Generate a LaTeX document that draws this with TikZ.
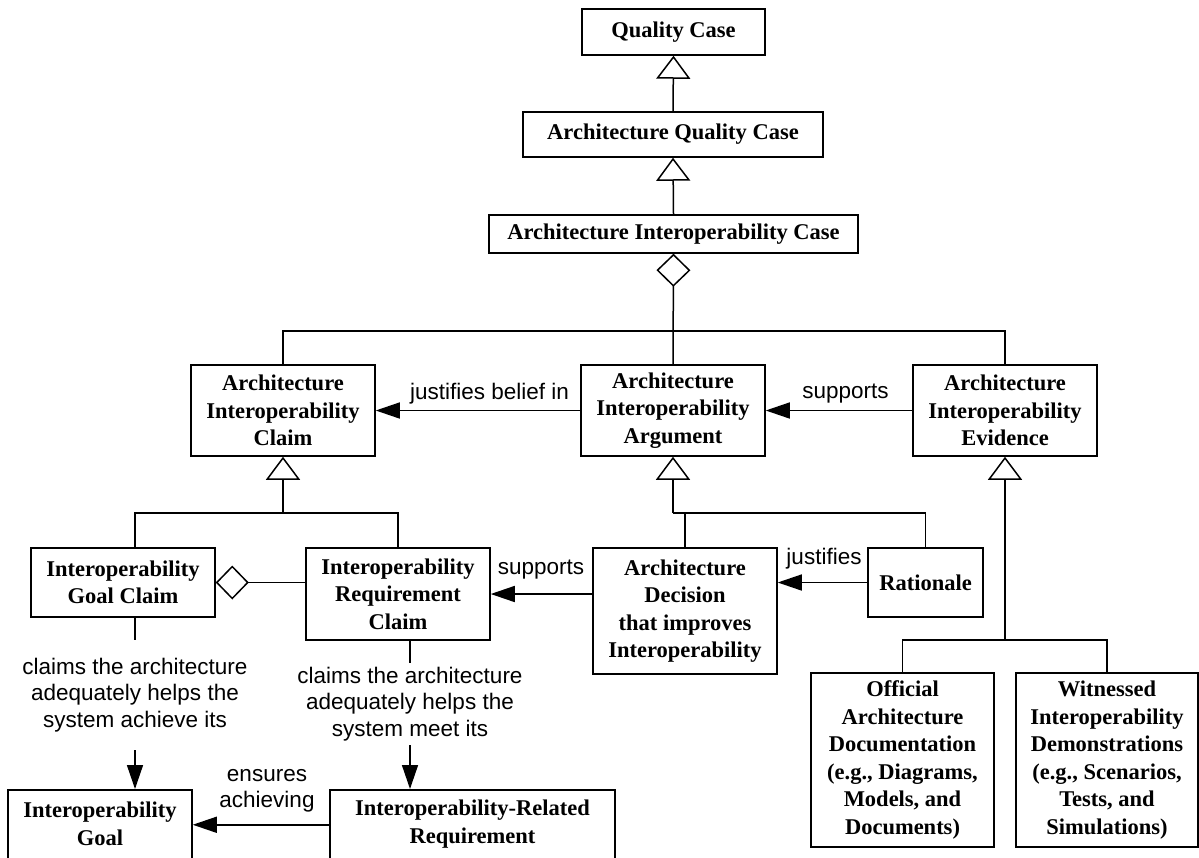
\documentclass[tikz,border=0pt]{standalone}
\usepackage{fontspec}
\setmainfont{Liberation Serif}
\newfontfamily\labelfont{Liberation Sans}
\usetikzlibrary{arrows.meta}
\begin{document}
\begin{tikzpicture}[x=1pt,y=-1pt,
  box/.style={draw, line width=1.5pt, align=center, inner sep=0pt,
    font=\bfseries\fontsize{22.5}{27.5}\selectfont},
  boxtext/.style={align=center, inner sep=0pt,
    font=\bfseries\fontsize{22.5}{27.5}\selectfont},
  lbl/.style={inner sep=0pt, align=center,
    font=\labelfont\fontsize{22.5}{26.5}\selectfont},
  wire/.style={line width=1.5pt},
  rel/.style={wire, -{Triangle[length=24pt, width=16pt]}},
  gen/.style={wire, -{Triangle[open, length=23pt, width=34pt, fill=white]}},
  agg/.style={wire, -{Diamond[open, length=33pt, width=34pt, fill=white]}},
]
\useasboundingbox (0,0) rectangle (1199,857);
\clip (0,0) rectangle (1199,857);
\fill[white] (0,0) rectangle (1199,857);

% class boxes
\node[box, minimum width=183pt, minimum height=46pt] (qc) at (673.5,32) {Quality Case};
\node[box, minimum width=300pt, minimum height=45pt] (aqc) at (673,134.5) {Architecture Quality Case};
\node[box, minimum width=369pt, minimum height=38pt] (aic) at (673.5,234) {Architecture Interoperability Case};

\node[box, minimum width=184pt, minimum height=91pt] (claim) at (283,410.5) {Architecture\\Interoperability\\Claim};
\node[box, minimum width=184pt, minimum height=91pt] (arg) at (673,410.5) {Architecture\\Interoperability\\Argument};
\node[box, minimum width=184pt, minimum height=91pt] (evid) at (1005,410.5) {Architecture\\Interoperability\\Evidence};

\node[box, minimum width=184pt, minimum height=69pt] (goalc) at (123,582.5) {Interoperability\\Goal Claim};
\node[box, minimum width=184pt, minimum height=92pt] (reqc) at (398,594) {Interoperability\\Requirement\\Claim};
\node[box, minimum width=184pt, minimum height=126pt] (dec) at (685,611) {Architecture\\Decision\\that improves\\Interoperability};
\node[box, minimum width=115pt, minimum height=69pt] (rat) at (925.5,582.5) {Rationale};

\node[box, minimum width=183pt, minimum height=174pt] (off) at (902.5,760)
  {Official\\Architecture\\Documentation\\(e.g., Diagrams,\\Models, and\\Documents)};
\node[box, minimum width=182pt, minimum height=174pt] (wit) at (1107,760)
  {Witnessed\\Interoperability\\Demonstrations\\(e.g., Scenarios,\\Tests, and\\Simulations)};

\node[box, minimum width=184pt, minimum height=110pt, anchor=north] (goal) at (100,789) {};
\node[boxtext] (goalt) at (100,824) {Interoperability\\Goal};
\node[box, minimum width=285pt, minimum height=110pt, anchor=north] (req) at (472.5,789) {};
\node[boxtext] (reqt) at (472.5,824) {Interoperability-Related\\Requirement};

% generalization and aggregation
\draw[gen] (aqc.north) -- (qc.south);
\draw[gen] (aic.north) -- (aqc.south);
\draw[agg] (arg.north) -- (aic.south);
\coordinate (bus1) at (673,331);
\draw[wire] (claim.north) |- (bus1) -| (evid.north);

\coordinate (bus2) at (283,513);
\draw[gen] (bus2) -- (claim.south);
\draw[wire] ([xshift=12pt]goalc.north) |- (bus2) -| (reqc.north);

\coordinate (bus3) at (673,513);
\draw[gen] (bus3) -- (arg.south);
\draw[wire] (dec.north) |- (bus3);
\draw[wire] (bus3) -| (rat.north);

\coordinate (bus4) at (1005,640);
\draw[gen] (bus4) -- (evid.south);
\draw[wire] (off.north) |- (bus4) -| (wit.north);

\draw[agg] (reqc.west |- goalc.east) -- (goalc.east);

% associations
\draw[rel] (arg.west) -- (claim.east);
\draw[rel] (evid.west) -- (arg.east);
\draw[rel] (dec.west |- reqc.east) -- (reqc.east);
\draw[rel] (rat.west) -- (dec.east |- rat.west);

\node[lbl, anchor=base] (t1) at (489.5,399) {justifies belief in};
\node[lbl, anchor=base] (t2) at (845.5,398) {supports};
\node[lbl, anchor=base] (t3) at (541,574) {supports};
\node[lbl, anchor=base] (t4) at (824,564) {justifies};
\node[lbl] (t5) at (267,791) {ensures\\achieving};

\node[lbl, minimum height=110pt] (lab1) at (135,695)
  {claims the architecture\\adequately helps the\\system achieve its};
\draw[wire] ([xshift=12pt]goalc.south) -- (lab1.north);
\draw[rel] (lab1.south) -- (lab1.south |- goal.north);

\node[lbl, minimum height=82pt] (lab2) at (410,704)
  {claims the architecture\\adequately helps the\\system meet its};
\draw[wire] ([xshift=12pt]reqc.south) -- (lab2.north);
\draw[rel] (lab2.south) -- (lab2.south |- req.north);

\draw[rel] ([yshift=20pt]req.west) coordinate (e1) -- (goal.east |- e1);
\end{tikzpicture}
\end{document}
